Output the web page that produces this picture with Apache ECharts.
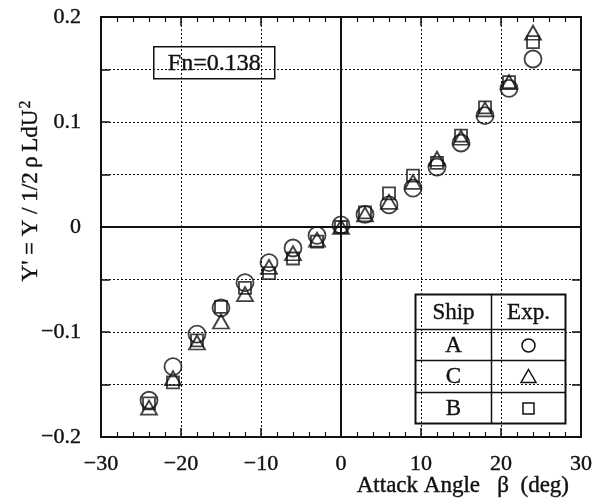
<!DOCTYPE html>
<html>
<head>
<meta charset="utf-8">
<script src="https://cdn.jsdelivr.net/npm/echarts@6/dist/echarts.min.js"></script>
<style>
  html, body { margin: 0; padding: 0; background: #fff; }
  #chart { width: 599px; height: 504px; }
</style>
</head>
<body>
<div id="chart"></div>
<script>
// attack angle (deg) of each measured point
const angles = [-24, -21, -18, -15, -12, -9, -6, -3, 0, 3, 6, 9, 12, 15, 18, 21, 24];
// Y' for ship A (circle), ship C (triangle), ship B (square)
const shipA = [-0.165, -0.133, -0.102, -0.077, -0.053, -0.034, -0.020, -0.008, 0.002, 0.012, 0.021, 0.037, 0.057, 0.080, 0.106, 0.132, 0.160];
const shipC = [-0.172, -0.144, -0.110, -0.090, -0.064, -0.038, -0.025, -0.012, 0.000, 0.012, 0.024, 0.043, 0.065, 0.085, 0.112, 0.138, 0.185];
const shipB = [-0.168, -0.148, -0.108, -0.076, -0.058, -0.044, -0.030, -0.014, 0.000, 0.014, 0.032, 0.049, 0.061, 0.087, 0.114, 0.138, 0.176];
const xTicks = [-30, 30, 10];
const yTicks = [-0.2, 0.2, 0.05];

const FONT = "'Liberation Serif', 'DejaVu Serif', serif";
const INK = "#111";

const chart = echarts.init(document.getElementById("chart"));

function minus(v) {
  return v < 0 ? "\u2212" + Math.abs(v) : String(v);
}

function pairs(ys) {
  return angles.map((a, i) => [a, ys[i]]);
}

// scanned print has heavy strokes, so thicken the text a little
const heavy = { textBorderColor: INK, textBorderWidth: 0.4 };
const dotted = { show: true, lineStyle: { color: INK, width: 1, type: [2, 2] } };

function xAxis(pos, labels) {
  return {
    type: "value",
    position: pos,
    min: xTicks[0],
    max: xTicks[1],
    interval: xTicks[2],
    axisLine: { show: true, onZero: false, lineStyle: { color: INK, width: 2 } },
    axisTick: { show: true, inside: true, length: 9, lineStyle: { color: INK, width: 1.5 } },
    minorTick: { show: true, splitNumber: 5, length: 5, lineStyle: { color: INK, width: 1.2 } },
    splitLine: labels ? dotted : { show: false },
    axisLabel: Object.assign({
      show: labels,
      margin: 16,
      color: INK,
      fontFamily: FONT,
      fontSize: 22,
      formatter: minus,
    }, heavy),
  };
}

function yAxis(pos, labels) {
  return {
    type: "value",
    position: pos,
    min: yTicks[0],
    max: yTicks[1],
    interval: yTicks[2],
    axisLine: { show: true, onZero: false, lineStyle: { color: INK, width: 2 } },
    axisTick: { show: true, inside: true, length: 9, lineStyle: { color: INK, width: 1.5 } },
    splitLine: labels ? dotted : { show: false },
    axisLabel: Object.assign({
      show: labels,
      margin: 20,
      color: INK,
      fontFamily: FONT,
      fontSize: 22,
      formatter: (v) => {
        const r = Math.round(v * 100);
        if (r % 10 !== 0) return "";
        if (r === 0) return "0";
        return (r < 0 ? "\u2212" : "") + (Math.abs(r) / 100).toFixed(1);
      },
    }, heavy),
  };
}

const marker = { color: "rgba(0,0,0,0)", borderColor: INK, borderWidth: 1.8 };

chart.setOption({
  animation: false,
  grid: { left: 101, right: 18, top: 17, bottom: 67, containLabel: false, outerBoundsMode: "none" },
  xAxis: [
    Object.assign(xAxis("bottom", true), {
      name: "Attack Angle   \u03b2  (deg)",
      nameLocation: "end",
      nameGap: -12,
      nameMoveOverlap: false,
      nameTextStyle: Object.assign({
        color: INK,
        fontFamily: FONT,
        fontSize: 23,
        align: "right",
        verticalAlign: "top",
        padding: [37, 0, 0, 0],
      }, heavy),
    }),
    xAxis("top", false),
  ],
  yAxis: [
    Object.assign(yAxis("left", true), {
      name: "{t|Y' = Y / 1/2\u2009\u03c1\u2009LdU}{s|2}",
      nameLocation: "middle",
      nameGap: 52,
      nameMoveOverlap: false,
      nameRotate: 90,
      nameTextStyle: {
        color: INK,
        fontFamily: FONT,
        fontSize: 23,
        padding: [0, 0, 0, 72],
        rich: {
          t: Object.assign({ fontFamily: FONT, fontSize: 23, color: INK, height: 26 }, heavy),
          s: Object.assign({ fontFamily: FONT, fontSize: 16, color: INK, verticalAlign: "top", height: 26, padding: [0, 0, 10, 1] }, heavy),
        },
      },
    }),
    yAxis("right", false),
  ],
  series: [
    {
      name: "A",
      type: "scatter",
      symbol: "circle",
      symbolSize: 17,
      itemStyle: marker,
      data: pairs(shipA),
      markLine: {
        silent: true,
        symbol: "none",
        label: { show: false },
        lineStyle: { color: INK, width: 2, type: "solid" },
        data: [{ xAxis: 0 }, { yAxis: 0 }],
      },
    },
    {
      name: "C",
      type: "scatter",
      symbol: "triangle",
      symbolSize: [16, 14],
      itemStyle: marker,
      data: pairs(shipC),
    },
    {
      name: "B",
      type: "scatter",
      symbol: "rect",
      symbolSize: 12,
      itemStyle: marker,
      data: pairs(shipB),
    },
  ],
  graphic: [
    {
      type: "group",
      left: 153,
      top: 46,
      z: 100,
      children: [
        { type: "rect", shape: { x: 0, y: 0, width: 121, height: 32 }, style: { fill: "#fff", stroke: INK, lineWidth: 1.5 } },
        { type: "text", x: 60.5, y: 17, style: { text: "Fn=0.138", font: "24px " + FONT, fill: INK, stroke: INK, lineWidth: 0.4, align: "center", verticalAlign: "middle" } },
      ],
    },
    {
      type: "group",
      left: 413,
      top: 292,
      z: 100,
      children: [
        { type: "rect", shape: { x: 0, y: 0, width: 150, height: 129 }, style: { fill: "#fff", stroke: INK, lineWidth: 2 } },
        { type: "line", shape: { x1: 76, y1: 0, x2: 76, y2: 129 }, style: { stroke: INK, lineWidth: 1.5 } },
        { type: "line", shape: { x1: 0, y1: 35, x2: 150, y2: 35 }, style: { stroke: INK, lineWidth: 1.5 } },
        { type: "line", shape: { x1: 0, y1: 66, x2: 150, y2: 66 }, style: { stroke: INK, lineWidth: 1.5 } },
        { type: "line", shape: { x1: 0, y1: 98, x2: 150, y2: 98 }, style: { stroke: INK, lineWidth: 1.5 } },
        { type: "text", x: 38, y: 18, style: { text: "Ship", font: "23px " + FONT, fill: INK, stroke: INK, lineWidth: 0.4, align: "center", verticalAlign: "middle" } },
        { type: "text", x: 113, y: 18, style: { text: "Exp.", font: "23px " + FONT, fill: INK, stroke: INK, lineWidth: 0.4, align: "center", verticalAlign: "middle" } },
        { type: "text", x: 38, y: 51, style: { text: "A", font: "23px " + FONT, fill: INK, stroke: INK, lineWidth: 0.4, align: "center", verticalAlign: "middle" } },
        { type: "text", x: 38, y: 82.5, style: { text: "C", font: "23px " + FONT, fill: INK, stroke: INK, lineWidth: 0.4, align: "center", verticalAlign: "middle" } },
        { type: "text", x: 38, y: 114, style: { text: "B", font: "23px " + FONT, fill: INK, stroke: INK, lineWidth: 0.4, align: "center", verticalAlign: "middle" } },
        { type: "circle", shape: { cx: 113, cy: 51, r: 6.5 }, style: { fill: "none", stroke: INK, lineWidth: 1.5 } },
        { type: "polygon", shape: { points: [[113, 75], [120.5, 88], [105.5, 88]] }, style: { fill: "none", stroke: INK, lineWidth: 1.5 } },
        { type: "rect", shape: { x: 107.5, y: 108.5, width: 11, height: 11 }, style: { fill: "none", stroke: INK, lineWidth: 1.5 } },
      ],
    },
  ],
});

window.addEventListener("resize", () => chart.resize());
</script>
</body>
</html>
